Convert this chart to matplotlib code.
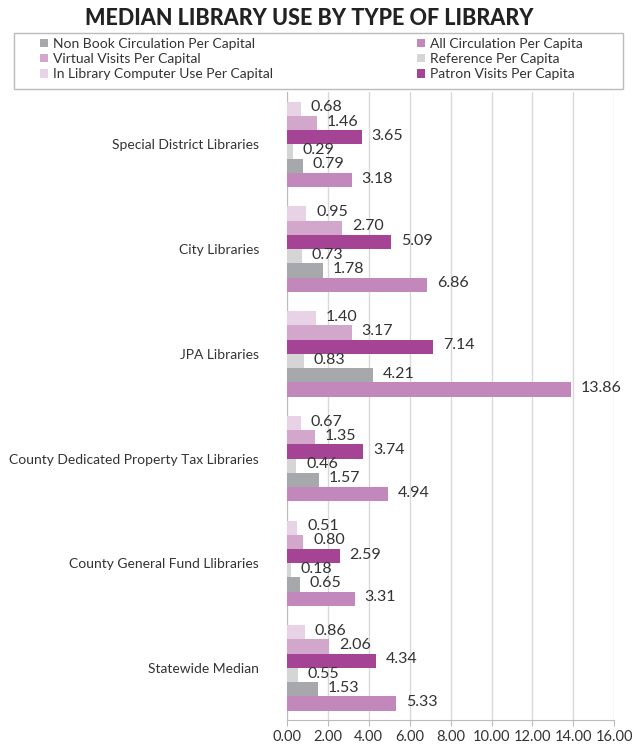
import numpy as np
import matplotlib.pyplot as plt
from matplotlib.patches import Rectangle

plt.rcParams['font.family'] = ['Lato', 'DejaVu Sans']

# dane
kategorie = ['Special District Libraries', 'City Libraries', 'JPA Libraries',
             'County Dedicated Property Tax Libraries', 'County General Fund Llibraries',
             'Statewide Median']
komputer = [0.68, 0.95, 1.40, 0.67, 0.51, 0.86]
wirtualne = [1.46, 2.70, 3.17, 1.35, 0.80, 2.06]
wizyty = [3.65, 5.09, 7.14, 3.74, 2.59, 4.34]
referencje = [0.29, 0.73, 0.83, 0.46, 0.18, 0.55]
nieksiazkowe = [0.79, 1.78, 4.21, 1.57, 0.65, 1.53]
wypozyczenia = [3.18, 6.86, 13.86, 4.94, 3.31, 5.33]

serie = [
    ('In Library Computer Use Per Capital', komputer, '#e8d2e5'),
    ('Virtual Visits Per Capital', wirtualne, '#d3a6cc'),
    ('Patron Visits Per Capita', wizyty, '#a54394'),
    ('Reference Per Capita', referencje, '#d5d5d7'),
    ('Non Book Circulation Per Capital', nieksiazkowe, '#a7a8ab'),
    ('All Circulation Per Capita', wypozyczenia, '#c288bb'),
]

fig = plt.figure(figsize=(6.32, 7.48), dpi=100)
ax = fig.add_axes([0.454, 0.037, 0.518, 0.840])

y = np.arange(len(kategorie))
h = 0.136
paski = {}
for i, (nazwa, wart, kolor) in enumerate(serie):
    pos = y + (i - 2.5) * h
    b = ax.barh(pos, wart, height=h, color=kolor, label=nazwa, zorder=3)
    paski[nazwa] = b
    for p, v in zip(pos, wart):
        ax.annotate('%.2f' % v, (v, p), xytext=(7, 1), textcoords='offset points',
                    va='center', ha='left', fontsize=11.5, color='#333333', zorder=4)

ax.set_xlim(0, 16)
ax.set_ylim(len(kategorie) - 0.5, -0.5)
ax.set_xticks(np.arange(0, 17, 2))
ax.set_xticklabels(['%.2f' % t for t in np.arange(0, 17, 2)], fontsize=10.5, color='#333333')
ax.set_yticks(y)
ax.set_yticklabels(kategorie, fontsize=10, color='#333333')
ax.tick_params(axis='y', length=0, pad=20)
ax.tick_params(axis='x', length=4, color='#bbbbbb', pad=3)
ax.grid(axis='x', color='#d9d9d9', linewidth=1, zorder=0)
for s in ['top', 'right']:
    ax.spines[s].set_visible(False)
for s in ['left', 'bottom']:
    ax.spines[s].set_color('#bbbbbb')

fig.text(0.49, 0.975, 'MEDIAN LIBRARY USE BY TYPE OF LIBRARY', ha='center', va='center',
         fontsize=15.5, fontweight='black', color='#222222')

# ramka legendy
fig.patches.append(Rectangle((0.022, 0.881), 0.963, 0.075, transform=fig.transFigure,
                             facecolor='white', edgecolor='#bbbbbb', linewidth=1))

kolejnosc = ['Non Book Circulation Per Capital', 'Virtual Visits Per Capital',
             'In Library Computer Use Per Capital', 'All Circulation Per Capita',
             'Reference Per Capita', 'Patron Visits Per Capita']
leg = fig.legend([paski[k] for k in kolejnosc], kolejnosc, ncol=2, loc='upper left',
                 bbox_to_anchor=(0.058, 0.881, 0.87, 0.073), mode='expand',
                 fontsize=10, frameon=False, borderaxespad=0,
                 handlelength=0.6, handleheight=0.6, handletextpad=0.35,
                 labelspacing=0.22, borderpad=0.25, columnspacing=1)
for t in leg.get_texts():
    t.set_color('#333333')

plt.savefig('out.png', dpi=100)
